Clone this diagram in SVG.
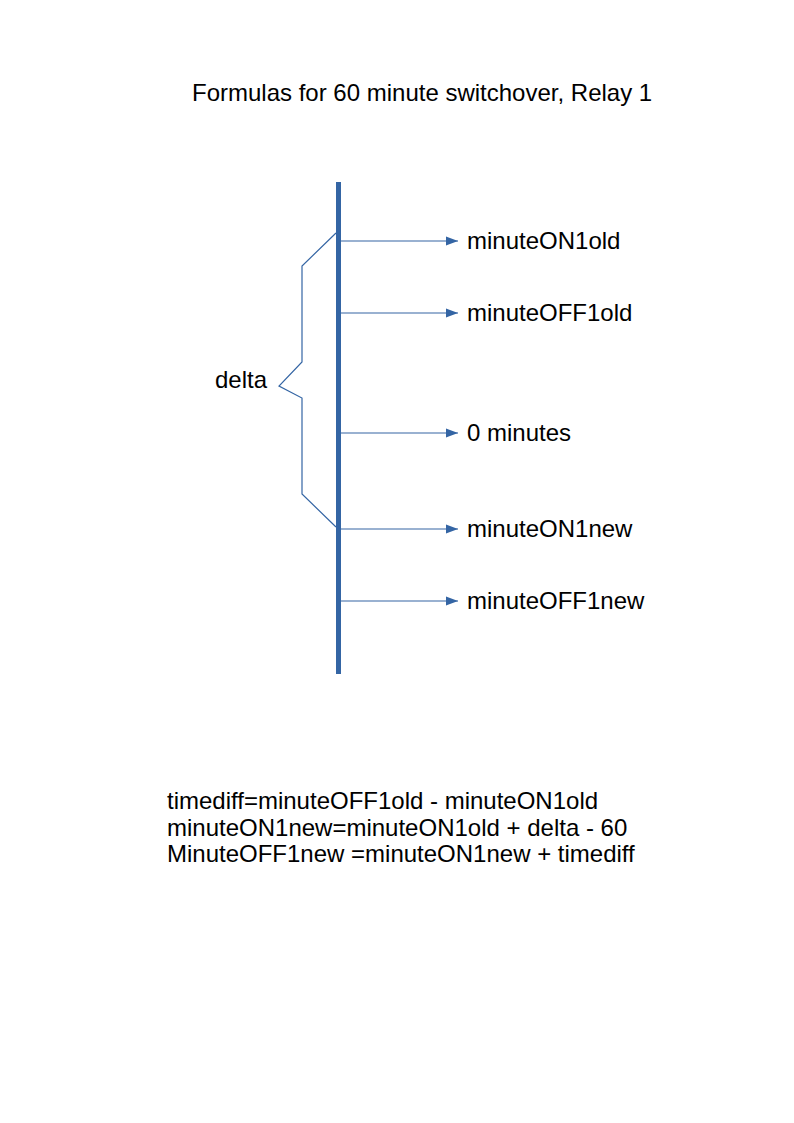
<svg xmlns="http://www.w3.org/2000/svg" width="794" height="1123" viewBox="0 0 794 1123">
<style>
text{font-family:"Liberation Sans",Arial,sans-serif;font-size:24px;fill:#000}
.c{stroke:#3465a4;stroke-width:1.2;fill:none}
</style>
<defs>
<marker id="ah" markerUnits="userSpaceOnUse" markerWidth="12" markerHeight="10" refX="12" refY="5" orient="auto"><path d="M0,0.5 L12,5 L0,9.5 Z" fill="#3465a4"/></marker>
</defs>
<rect width="794" height="1123" fill="#fff"/>
<g id="title"><text x="192" y="101">Formulas for 60 minute switchover, Relay 1</text></g>
<g id="axis"><rect x="336" y="182" width="5" height="492" fill="#3465a4"/></g>
<g id="brace"><path class="c" d="M336,233 L302,266 L302,362 L279,386 L302,398 L302,494 L336,527"/><text x="215" y="388">delta</text></g>
<g id="connectors">
<line class="c" x1="341" y1="241" x2="458" y2="241" marker-end="url(#ah)"/>
<line class="c" x1="341" y1="313" x2="458" y2="313" marker-end="url(#ah)"/>
<line class="c" x1="341" y1="433" x2="458" y2="433" marker-end="url(#ah)"/>
<line class="c" x1="341" y1="529" x2="458" y2="529" marker-end="url(#ah)"/>
<line class="c" x1="341" y1="601" x2="458" y2="601" marker-end="url(#ah)"/>
</g>
<g id="n1"><text x="467" y="249">minuteON1old</text></g>
<g id="n2"><text x="467" y="321">minuteOFF1old</text></g>
<g id="n3"><text x="467" y="441">0 minutes</text></g>
<g id="n4"><text x="467" y="537">minuteON1new</text></g>
<g id="n5"><text x="467" y="609">minuteOFF1new</text></g>
<g id="formulas">
<text x="167" y="809">timediff=minuteOFF1old - minuteON1old</text>
<text x="167" y="836">minuteON1new=minuteON1old + delta - 60</text>
<text x="167" y="862">MinuteOFF1new =minuteON1new + timediff</text>
</g>
</svg>
